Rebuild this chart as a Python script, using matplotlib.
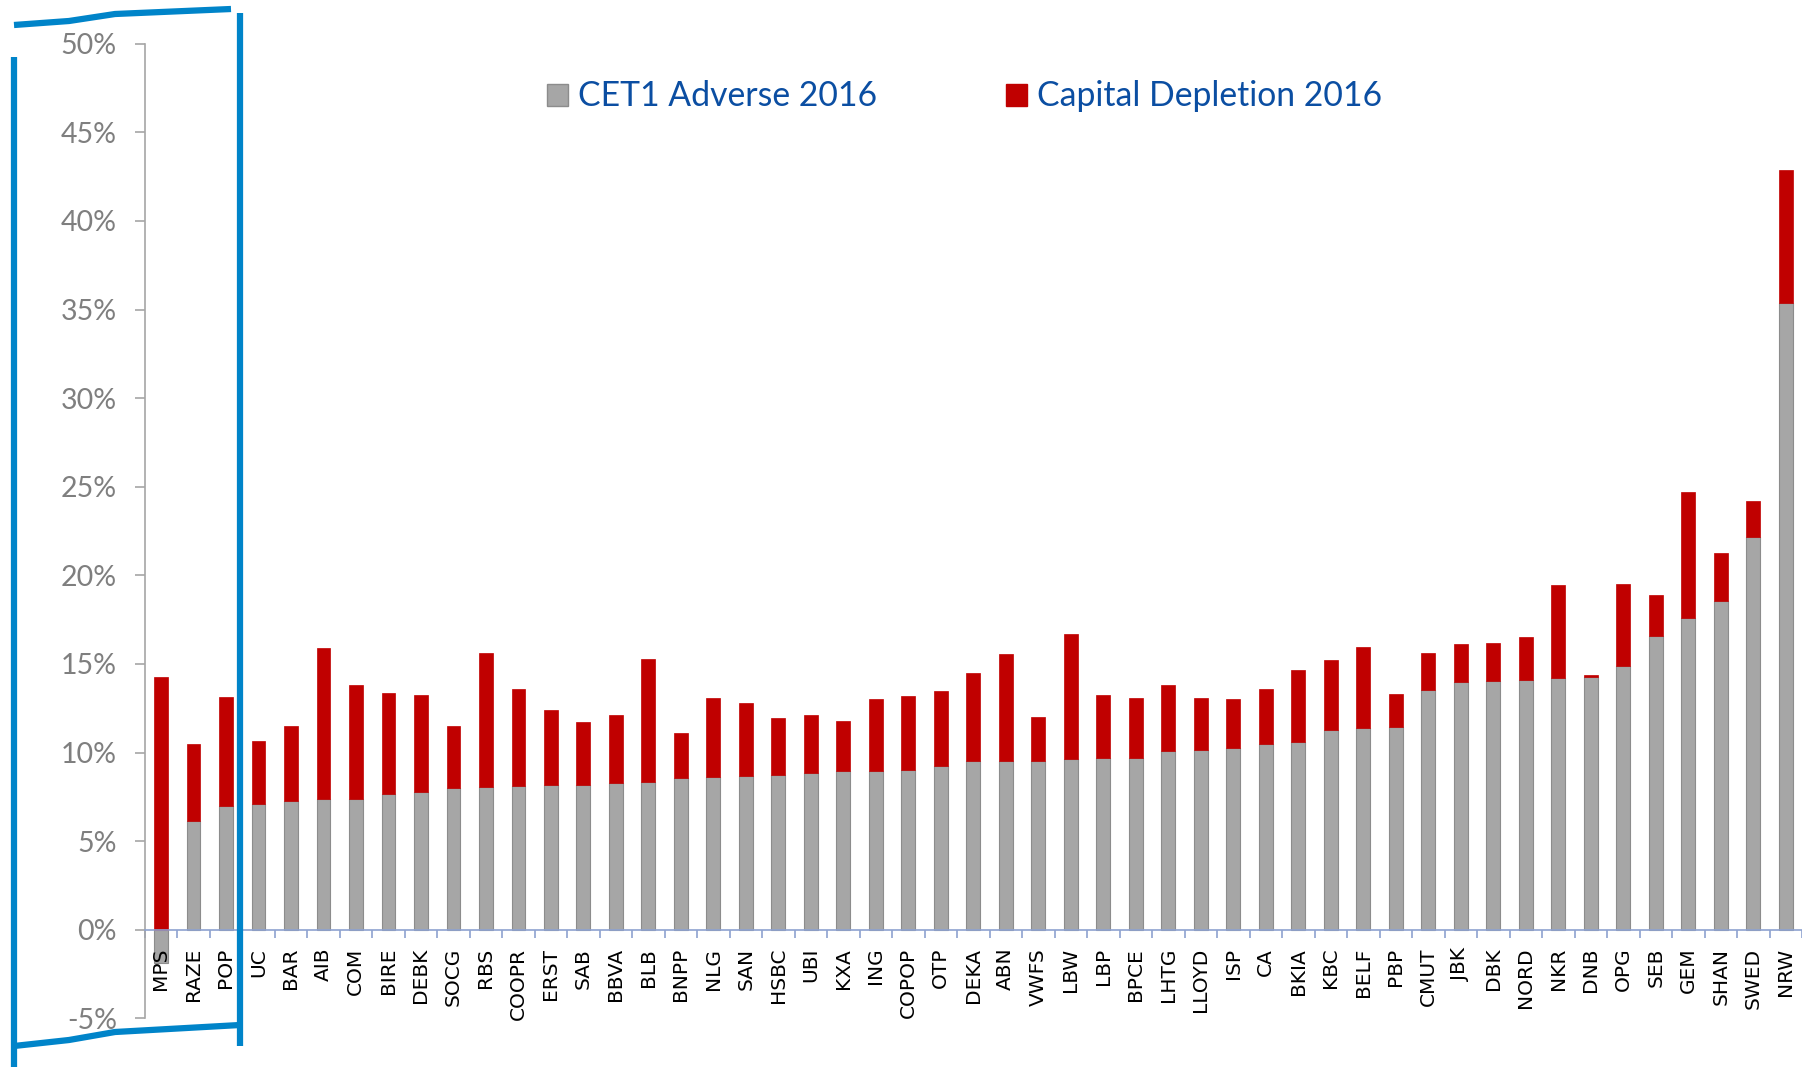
import matplotlib
matplotlib.use('Agg')
from matplotlib import pyplot as plt
from matplotlib.lines import Line2D
from matplotlib.patches import Patch
from matplotlib.ticker import FuncFormatter, MultipleLocator
import numpy as np

banks = ['MPS', 'RAZE', 'POP', 'UC', 'BAR', 'AIB', 'COM', 'BIRE', 'DEBK', 'SOCG',
         'RBS', 'COOPR', 'ERST', 'SAB', 'BBVA', 'BLB', 'BNPP', 'NLG', 'SAN', 'HSBC',
         'UBI', 'KXA', 'ING', 'COPOP', 'OTP', 'DEKA', 'ABN', 'VWFS', 'LBW', 'LBP',
         'BPCE', 'LHTG', 'LLOYD', 'ISP', 'CA', 'BKIA', 'KBC', 'BELF', 'PBP', 'CMUT',
         'JBK', 'DBK', 'NORD', 'NKR', 'DNB', 'OPG', 'SEB', 'GEM', 'SHAN', 'SWED', 'NRW']

# CET1 ratio under the adverse scenario, 2016 (%)
cet1_adverse = [-1.9, 6.13, 6.98, 7.08, 7.28, 7.36, 7.40, 7.66, 7.77, 8.00,
                8.04, 8.09, 8.17, 8.17, 8.28, 8.32, 8.57, 8.64, 8.66, 8.74,
                8.83, 8.94, 8.98, 9.02, 9.21, 9.51, 9.51, 9.53, 9.66, 9.70,
                9.70, 10.08, 10.13, 10.23, 10.47, 10.62, 11.26, 11.40, 11.43, 13.55,
                13.98, 14.02, 14.09, 14.19, 14.28, 14.89, 16.60, 17.60, 18.55, 22.18, 35.34]

# top of the stacked bar (CET1 + depletion), %
total_top = [14.28, 10.50, 13.15, 10.64, 11.47, 15.90, 13.83, 13.34, 13.25, 11.47,
             15.60, 13.57, 12.40, 11.74, 12.09, 15.30, 11.09, 13.06, 12.77, 11.92,
             12.13, 11.75, 13.00, 13.21, 13.47, 14.51, 15.57, 12.02, 16.70, 13.25,
             13.08, 13.83, 13.09, 13.04, 13.57, 14.64, 15.21, 15.96, 13.30, 15.60,
             16.11, 16.19, 16.51, 19.46, 14.36, 19.52, 18.87, 24.70, 21.27, 24.19, 42.87]

cet1 = np.array(cet1_adverse)
base = np.clip(cet1, 0, None)
depletion = np.array(total_top) - base

plt.rcParams['axes.unicode_minus'] = False

W, H = 1802, 1067
fig = plt.figure(figsize=(W / 100, H / 100), dpi=100)
ax = fig.add_axes([144.6 / W, (H - 1018.3) / H, (W - 144.6) / W, (1018.3 - 43.7) / H])

x = np.arange(len(banks))
bw = 0.42
# bars below the axis so the bank names sit on top of MPS's negative bar
ax.bar(x, cet1, bw, color='#A6A6A6', edgecolor='#8C8C8C', linewidth=0.8, zorder=1)
ax.bar(x, depletion, bw, bottom=base, color='#C00000', edgecolor='#C00000', linewidth=0.5, zorder=1)

ax.set_ylim(-5, 50)
ax.set_xlim(-0.5, 50.39)
ax.yaxis.set_major_locator(MultipleLocator(5))
ax.yaxis.set_major_formatter(FuncFormatter(lambda v, p: f'{v:.0f}%'))

for s in ['top', 'right']:
    ax.spines[s].set_visible(False)
ax.spines['left'].set_color('#A6A6A6')
ax.spines['left'].set_linewidth(1.2)
ax.spines['bottom'].set_position(('data', 0))
ax.spines['bottom'].set_color('#8EA2D0')
ax.spines['bottom'].set_linewidth(1.2)

ax.tick_params(axis='y', direction='out', length=7, width=1.2, color='#A6A6A6',
               pad=13, labelsize=20.5, labelcolor='#7F7F7F')
for t in ax.get_yticklabels():
    t.set_fontfamily('Lato')

ax.set_xticks(x)
ax.set_xticklabels(banks, rotation=90, fontsize=14.5, family='DejaVu Sans', va='top', ha='center')
ax.set_xticks(np.arange(-0.5, len(banks), 1), minor=True)
ax.tick_params(axis='x', which='major', length=0, pad=13)
ax.tick_params(axis='x', which='minor', direction='out', length=5.5, width=1.2, color='#8EA2D0')

handles = [Patch(facecolor='#A6A6A6', edgecolor='#8C8C8C'), Patch(facecolor='#C00000', edgecolor='#C00000')]
fig.legend(handles, ['CET1 Adverse 2016', 'Capital Depletion 2016'], loc='center left',
           bbox_to_anchor=(547 / W, 1 - 96.5 / H), ncol=2, frameon=False, borderpad=0, borderaxespad=0,
           handlelength=0.63, handleheight=0.63, handletextpad=0.3, columnspacing=3.8,
           prop={'family': 'Lato', 'size': 24.3}, labelcolor='#0B4EA2')

# blue bracket around the first three banks
blue = '#0084C9'
def px_line(xs, ys):
    fig.add_artist(Line2D([v / W for v in xs], [1 - v / H for v in ys], color=blue,
                          linewidth=4.5, solid_capstyle='butt'))

px_line([14, 14], [57, 1067])
px_line([14, 69, 115, 231], [25, 21, 14, 9])
px_line([240, 240], [13, 1046])
px_line([14, 69, 115, 240], [1046, 1040, 1032, 1025])

fig.savefig('out.png', dpi=100)
plt.close()
